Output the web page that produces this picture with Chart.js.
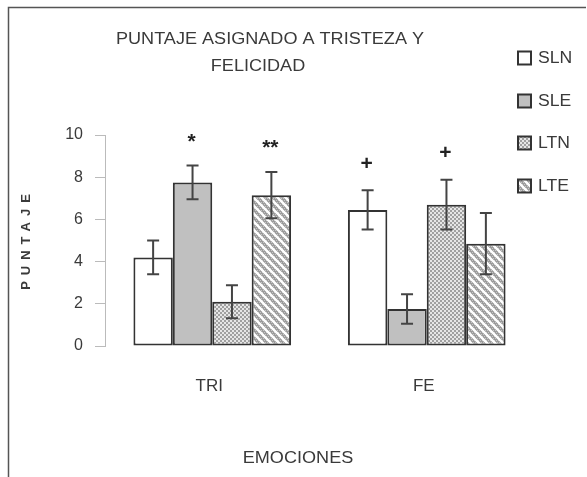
<!DOCTYPE html>
<html>
<head>
<meta charset="utf-8">
<script src="https://cdn.jsdelivr.net/npm/chart.js@4.4.0/dist/chart.umd.min.js"></script>
<style>
  body { margin: 0; background: #fff; }
  #wrap { width: 587px; height: 477px; }
</style>
</head>
<body>
<div id="wrap"><canvas id="barchart" width="587" height="477"></canvas></div>
<script>
const categorias = ['TRI', 'FE'];
const series = ['SLN', 'SLE', 'LTN', 'LTE'];

const sln = [4.2, 6.45];
const sle = [7.75, 1.75];
const ltn = [2.1, 6.7];
const lte = [7.15, 4.85];

const errSln = [0.8, 0.93];
const errSle = [0.8, 0.7];
const errLtn = [0.78, 1.18];
const errLte = [1.1, 1.45];

const marcas = [['', '+'], ['*', ''], ['', '+'], ['**', '']];

const yTicks = [0, 2, 4, 6, 8, 10];

const titulo = ['PUNTAJE ASIGNADO A TRISTEZA Y', 'FELICIDAD'];
const tituloY = 'PUNTAJE';
const tituloX = 'EMOCIONES';

const fuente = '"Liberation Sans", Arial, sans-serif';
const texto = '#3a3a3a';

// patterns
function patronPuntos() {
  const c = document.createElement('canvas');
  c.width = 4; c.height = 4;
  const g = c.getContext('2d');
  g.fillStyle = '#e6e6e6';
  g.fillRect(0, 0, 4, 4);
  g.fillStyle = '#a0a0a0';
  g.fillRect(0, 0, 2, 2);
  g.fillRect(2, 2, 2, 2);
  return g.createPattern(c, 'repeat');
}

function patronRayas() {
  const c = document.createElement('canvas');
  c.width = 8; c.height = 8;
  const g = c.getContext('2d');
  g.fillStyle = '#9a9a9a';
  g.fillRect(0, 0, 8, 8);
  g.fillStyle = '#c8c8c8';
  for (let i = 0; i < 8; i += 2) for (let j = 0; j < 8; j += 2) g.fillRect(i + ((j / 2) % 2), j, 1, 1);
  g.strokeStyle = '#ffffff';
  g.lineWidth = 2.4;
  g.beginPath();
  g.moveTo(-1, -1); g.lineTo(9, 9);
  g.moveTo(-5, 3); g.lineTo(5, 13);
  g.moveTo(3, -5); g.lineTo(13, 5);
  g.stroke();
  return g.createPattern(c, 'repeat');
}

const rellenos = ['#ffffff', '#c0c0c0', patronPuntos(), patronRayas()];
const valores = [sln, sle, ltn, lte];
const errores = [errSln, errSle, errLtn, errLte];

// texto ensanchado como en la imagen original
function textoAncho(ctx, t, x, y, sx) {
  ctx.save();
  ctx.translate(x, y);
  ctx.scale(sx, 1);
  ctx.fillText(t, 0, 0);
  ctx.restore();
}

const extras = {
  id: 'extras',
  afterDatasetsDraw(chart) {
    const ctx = chart.ctx;
    const y = chart.scales.y;
    ctx.save();
    // error bars
    ctx.strokeStyle = '#444';
    ctx.lineWidth = 2;
    valores.forEach((vals, d) => {
      const meta = chart.getDatasetMeta(d);
      meta.data.forEach((bar, i) => {
        const top = y.getPixelForValue(vals[i] + errores[d][i]);
        const bot = y.getPixelForValue(vals[i] - errores[d][i]);
        ctx.beginPath();
        ctx.moveTo(bar.x, top); ctx.lineTo(bar.x, bot);
        ctx.moveTo(bar.x - 6, top); ctx.lineTo(bar.x + 6, top);
        ctx.moveTo(bar.x - 6, bot); ctx.lineTo(bar.x + 6, bot);
        ctx.stroke();
        const m = marcas[d][i];
        if (m) {
          ctx.fillStyle = '#222';
          ctx.font = 'bold 21px ' + fuente;
          ctx.textAlign = 'center';
          ctx.textBaseline = 'alphabetic';
          const mt = ctx.measureText(m);
          const cy = top - 28;
          ctx.fillText(m, bar.x - 1, cy + (mt.actualBoundingBoxAscent - mt.actualBoundingBoxDescent) / 2);
        }
      });
    });
    ctx.restore();
  },
  afterDraw(chart) {
    const ctx = chart.ctx;
    ctx.save();
    // frame
    ctx.strokeStyle = '#555';
    ctx.lineWidth = 1.5;
    ctx.beginPath();
    ctx.moveTo(8.5, 477); ctx.lineTo(8.5, 7.5); ctx.lineTo(586, 7.5);
    ctx.stroke();

    ctx.fillStyle = texto;
    ctx.textBaseline = 'middle';
    ctx.textAlign = 'center';
    ctx.font = '16px ' + fuente;
    textoAncho(ctx, titulo[0], 270, 40, 1.13);
    textoAncho(ctx, titulo[1], 258, 67, 1.13);
    textoAncho(ctx, tituloX, 298, 459, 1.13);

    // y title
    ctx.save();
    ctx.translate(26, 242);
    ctx.rotate(-Math.PI / 2);
    ctx.font = 'bold 13px ' + fuente;
    ctx.letterSpacing = '6px';
    ctx.fillText(tituloY, 3, 0);
    ctx.restore();

    // legend
    const ly = [58, 101, 143, 186];
    series.forEach((s, i) => {
      ctx.fillStyle = rellenos[i];
      ctx.fillRect(518, ly[i] - 6.5, 13, 13);
      ctx.strokeStyle = '#333';
      ctx.lineWidth = 2;
      ctx.strokeRect(518, ly[i] - 6.5, 13, 13);
      ctx.fillStyle = texto;
      ctx.textAlign = 'left';
      ctx.font = '16px ' + fuente;
      textoAncho(ctx, s, 538, ly[i] + 1, 1.1);
    });
    ctx.restore();
  }
};

const data = {
  labels: categorias,
  datasets: series.map((s, i) => ({
    label: s,
    data: valores[i],
    backgroundColor: rellenos[i],
    borderColor: '#333',
    borderWidth: 2,
    borderSkipped: false,
    categoryPercentage: 0.735,
    barPercentage: 1
  }))
};

const config = {
  type: 'bar',
  data: data,
  plugins: [extras],
  options: {
    responsive: false,
    animation: false,
    layout: { padding: { top: 135, right: 53, bottom: 0, left: 0 } },
    plugins: { legend: { display: false }, tooltip: { enabled: false }, title: { display: false } },
    scales: {
      x: {
        grid: { display: false, drawTicks: false },
        border: { display: false },
        ticks: { color: texto, font: { family: fuente, size: 17 }, padding: 30, labelOffset: -3 },
        afterFit: (s) => { s.height = 131; }
      },
      y: {
        min: 0,
        max: 10,
        afterBuildTicks: (s) => { s.ticks = yTicks.map(v => ({ value: v })); },
        grid: { drawOnChartArea: false, drawTicks: true, tickLength: 10, color: '#bbb' },
        border: { display: true, color: '#bbb', width: 1 },
        ticks: { color: texto, font: { family: fuente, size: 16 }, padding: 12 },
        afterFit: (s) => { s.width = 105; }
      }
    }
  }
};

let barchart = new Chart(document.getElementById('barchart'), config);
</script>
</body>
</html>
